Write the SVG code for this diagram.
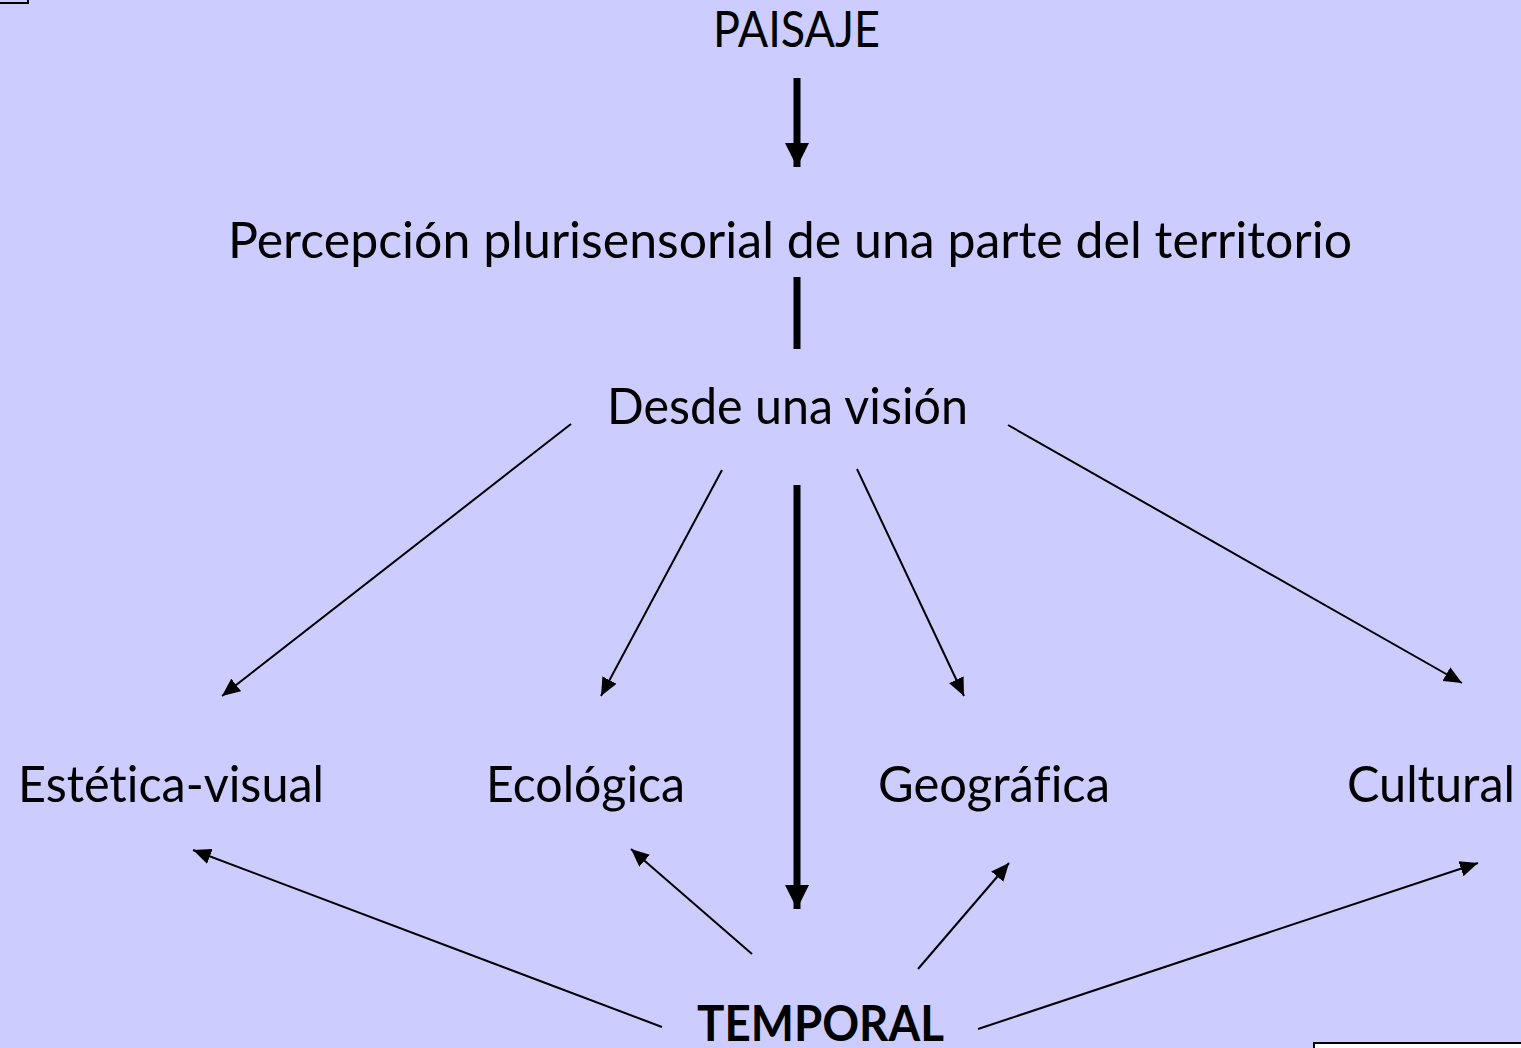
<svg xmlns="http://www.w3.org/2000/svg" width="1521" height="1048" viewBox="0 0 1521 1048">
<style>
text{font-family:Lato,"Open Sans","Liberation Sans",sans-serif;font-size:50px;fill:#000;font-variant-ligatures:none;font-feature-settings:"liga" 0,"clig" 0,"dlig" 0}
.b{font-weight:bold}
.thin{stroke:#000;stroke-width:2;fill:none}
.thick{stroke:#000;stroke-width:7;fill:none}
</style>
<defs>
<marker id="ah" markerUnits="userSpaceOnUse" markerWidth="20" markerHeight="16" refX="18" refY="8" orient="auto"><path d="M0,0 L18,8 L0,16 Z" fill="#000"/></marker>
<marker id="bh" markerUnits="userSpaceOnUse" markerWidth="26" markerHeight="24" refX="24" refY="12" orient="auto"><path d="M0,0 L24,12 L0,24 Z" fill="#000"/></marker>
</defs>
<rect width="1521" height="1048" fill="#CCCCFF"/>
<rect x="-10" y="-10" width="38" height="13" fill="none" stroke="#000" stroke-width="2"/>
<rect x="1314" y="1043" width="220" height="20" fill="#fff" stroke="#000" stroke-width="2"/>
<g id="connectors">
<line class="thick" x1="797" y1="78" x2="797" y2="167" marker-end="url(#bh)"/>
<line class="thick" x1="797" y1="277" x2="797" y2="349"/>
<line class="thick" x1="797" y1="485" x2="797" y2="909" marker-end="url(#bh)"/>
<line class="thin" x1="571" y1="424" x2="222" y2="696" marker-end="url(#ah)"/>
<line class="thin" x1="722" y1="470" x2="601" y2="696" marker-end="url(#ah)"/>
<line class="thin" x1="857" y1="469" x2="964" y2="696" marker-end="url(#ah)"/>
<line class="thin" x1="1008" y1="425" x2="1462" y2="683" marker-end="url(#ah)"/>
<line class="thin" x1="662" y1="1027" x2="193" y2="850" marker-end="url(#ah)"/>
<line class="thin" x1="752" y1="954" x2="631" y2="849" marker-end="url(#ah)"/>
<line class="thin" x1="918" y1="969" x2="1009" y2="863" marker-end="url(#ah)"/>
<line class="thin" x1="978" y1="1029" x2="1478" y2="863" marker-end="url(#ah)"/>
</g>
<g id="paisaje"><text x="713" y="47" textLength="167" lengthAdjust="spacingAndGlyphs">PAISAJE</text></g>
<g id="percepcion"><text x="228" y="258" textLength="1124" lengthAdjust="spacingAndGlyphs">Percepción plurisensorial de una parte del territorio</text></g>
<g id="desde"><text x="607" y="424" textLength="361" lengthAdjust="spacingAndGlyphs">Desde una visión</text></g>
<g id="estetica"><text x="18" y="802" textLength="306" lengthAdjust="spacingAndGlyphs">Estética-visual</text></g>
<g id="ecologica"><text x="486" y="802" textLength="199" lengthAdjust="spacingAndGlyphs">Ecológica</text></g>
<g id="geografica"><text x="878" y="802" textLength="232" lengthAdjust="spacingAndGlyphs">Geográfica</text></g>
<g id="cultural"><text x="1347" y="802" textLength="168" lengthAdjust="spacingAndGlyphs">Cultural</text></g>
<g id="temporal"><text class="b" x="697" y="1041" textLength="247" lengthAdjust="spacingAndGlyphs">TEMPORAL</text></g>
</svg>
